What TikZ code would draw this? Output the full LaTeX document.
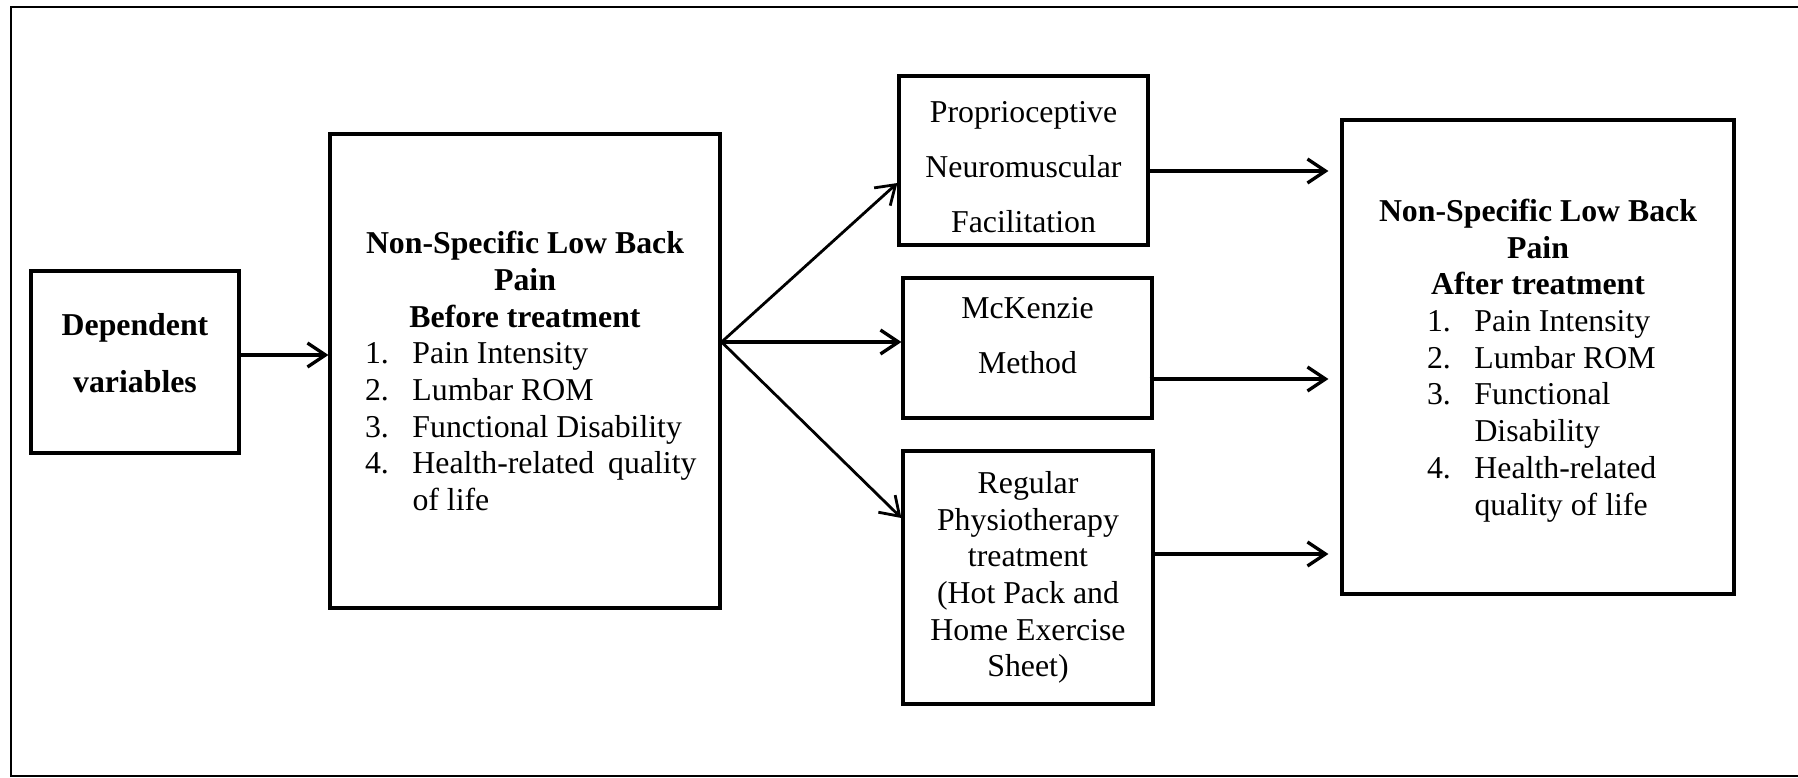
\documentclass[tikz,border=0pt]{standalone}
\usepackage{fontspec}
\setmainfont{Liberation Serif}
\usetikzlibrary{arrows.meta,positioning,calc}

% one numbered line of a list, in a box of fixed width
\newcommand{\numline}[3]{\makebox[#1][l]{\makebox[47.5pt][l]{#2}#3}}

\begin{document}
\begin{tikzpicture}[x=1pt,y=-1pt,
  box/.style={draw, line width=3.2pt, align=center, inner sep=0pt,
    font=\fontsize{31.8pt}{36.7pt}\selectfont},
  wide/.style={font=\fontsize{31.8pt}{55pt}\selectfont},
  arr/.style={-{Straight Barb[length=18pt,width=24pt]}, line width=3.3pt},
]
  \useasboundingbox (0,0) rectangle (1798,777);
  % outer frame (right side cut off)
  \draw[line width=2pt] (1810,7) -- (11,7) -- (11,776) -- (1810,776);

  % boxes
  \node[box, minimum width=208pt, minimum height=182pt, text depth=18pt,
        font=\fontsize{31.8pt}{57pt}\selectfont\bfseries]
    (dep) at (135,362) {Dependent\\variables};
  \node[box, minimum width=390pt, minimum height=474pt] (before) at (525,371)
    {\textbf{Non-Specific Low Back}\\\textbf{Pain}\\\textbf{Before treatment}\\
     \numline{320pt}{1.}{Pain Intensity}\\
     \numline{320pt}{2.}{Lumbar ROM}\\
     \numline{320pt}{3.}{Functional Disability}\\
     \numline{320pt}{4.}{\makebox[284pt]{Health-related\hfill quality}}\\
     \numline{320pt}{}{of life}};
  \node[box, wide, minimum width=249pt, minimum height=169pt,
        text height=144pt, text depth=0pt]
    (pnf) at (1023.5,160.5) {Proprioceptive\\Neuromuscular\\Facilitation};
  \node[box, wide, minimum width=249pt, minimum height=140pt, text depth=26pt]
    (mck) at (1027.5,348) {McKenzie\\Method};
  \node[box, minimum width=250pt, minimum height=253pt] (reg) at (1028,577.5)
    {Regular\\Physiotherapy\\treatment\\(Hot Pack and\\Home Exercise\\Sheet)};
  \node[box, minimum width=392pt, minimum height=474pt, text depth=-3pt]
    (after) at (1538,357)
    {\textbf{Non-Specific Low Back}\\\textbf{Pain}\\\textbf{After treatment}\\
     \numline{222pt}{1.}{Pain Intensity}\\
     \numline{222pt}{2.}{Lumbar ROM}\\
     \numline{222pt}{3.}{Functional}\\
     \numline{222pt}{}{Disability}\\
     \numline{222pt}{4.}{Health-related}\\
     \numline{222pt}{}{quality of life}};

  % connectors
  \draw[arr] ([yshift=7pt]dep.east) -- ([yshift=7pt]dep.east -| before.west);
  \coordinate (fork) at ([yshift=29pt]before.east);
  \draw[arr, line width=2.8pt] (fork) -- ([yshift=-22.5pt]pnf.west);
  \draw[arr] (fork) -- ([yshift=6pt]mck.west);
  \draw[arr, line width=2.8pt] (fork) -- ([yshift=59.5pt]reg.west);
  \draw[arr, shorten >=12pt] ([yshift=-10.5pt]pnf.east) -- ([yshift=-10.5pt]pnf.east -| after.west);
  \draw[arr, shorten >=12pt] ([yshift=-31pt,xshift=-4pt]mck.east) -- ([yshift=-31pt]mck.east -| after.west);
  \draw[arr, shorten >=12pt] ([yshift=23.5pt]reg.east) -- ([yshift=23.5pt]reg.east -| after.west);
\end{tikzpicture}
\end{document}
